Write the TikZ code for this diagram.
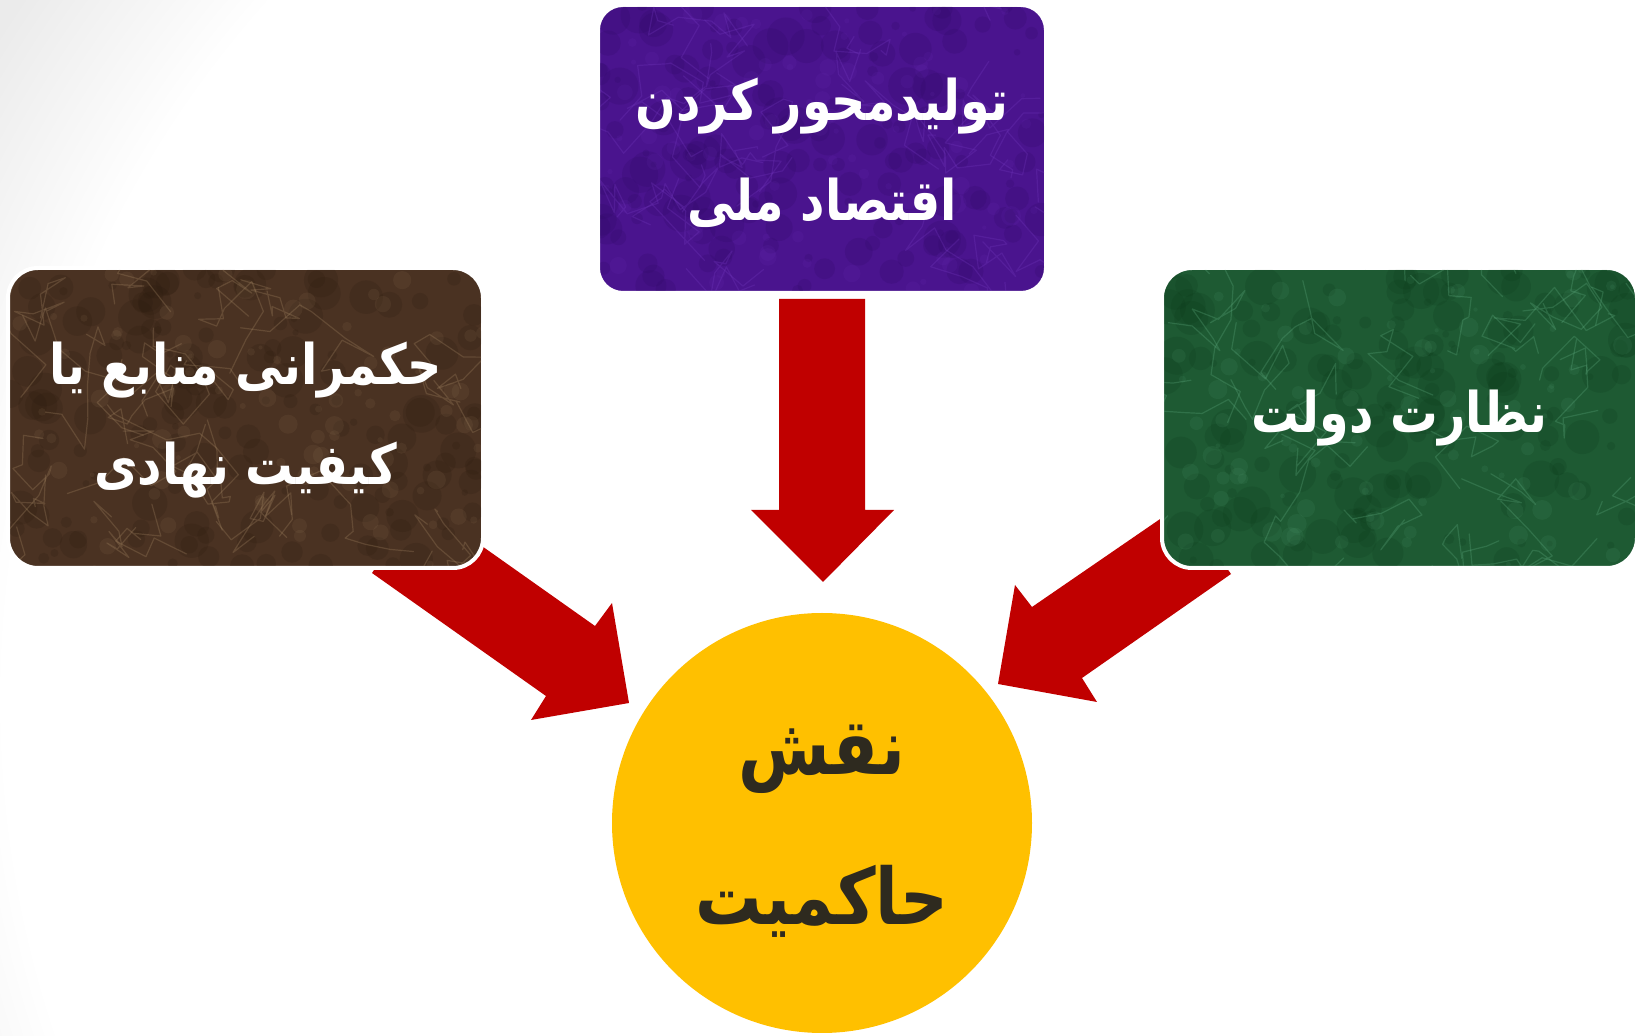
\documentclass[tikz,border=0pt]{standalone}
\usepackage{fontspec}
\newfontfamily\fa[Script=Arabic, FakeStretch=0.85]{DejaVu Sans}
\TeXXeTstate=1
\definecolor{arrowred}{HTML}{C00000}
\definecolor{sungold}{HTML}{FFC000}
\definecolor{darktext}{HTML}{2E2A1F}
\definecolor{purplebase}{HTML}{4A148E}
\definecolor{purpledark}{HTML}{2C0862}
\definecolor{purplelight}{HTML}{7438C0}
\definecolor{brownbase}{HTML}{4A3222}
\definecolor{browndark}{HTML}{2A1A0E}
\definecolor{brownlight}{HTML}{A88A66}
\definecolor{greenbase}{HTML}{1E5A33}
\definecolor{greendark}{HTML}{0C3A1A}
\definecolor{greenlight}{HTML}{62B083}
\tikzset{
  tile/.style={draw=white, line width=2pt, inner sep=0pt, outer sep=0pt},
  boxtext/.style={text=white, align=center, font=\fa\bfseries\fontsize{28}{50}\selectfont},
  circtext/.style={text=darktext, align=center, font=\fa\bfseries\fontsize{39}{75}\selectfont},
  bigarrow/.style={fill=arrowred, draw=none},
}
\newcommand{\marbletexture}[5]{% width, height, dark, light, seed
  \pgfmathsetseed{#5}
  \foreach \k in {1,...,160}{
    \fill[#3, opacity=0.2] ({rnd*#1},{rnd*#2}) circle ({3+rnd*16});
  }
  \foreach \k in {1,...,90}{
    \fill[#4, opacity=0.1] ({rnd*#1},{rnd*#2}) circle ({2+rnd*8});
  }
  \foreach \k in {1,...,30}{
    \draw[#4, opacity=0.28, line width=0.6pt, line join=round, line cap=round]
      ({rnd*#1},{rnd*#2}) \foreach \j in {1,...,8}{ -- ++({rand*35},{rand*35}) };
  }
}
\begin{document}
\begin{tikzpicture}[x=0.5pt,y=-0.5pt]
\useasboundingbox (0,0) rectangle (1635,1036);
% background
\begin{scope}
  \clip (0,0) rectangle (1635,1036);
  \fill[black!8] (0,0) rectangle (1635,1036);
  \foreach \i in {0,...,20}{
    \pgfmathsetmacro\g{8*(1-\i/20)}
    \fill[black!\g] (1050,700) circle ({1250-\i*10});
  }
\end{scope}

% arrows (drawn below the tiles)
\fill[bigarrow] (779,299) -- (865,299) -- (865,510) -- (894,510) -- (823,582) -- (751,510) -- (779,510) -- cycle;
\fill[bigarrow] (372,573) -- (421,503) -- (595,626) -- (612,603) -- (629,703) -- (531,720) -- (546,696) -- cycle;
\fill[bigarrow] (1231,574) -- (1182,504) -- (1032,607) -- (1015,585) -- (998,684) -- (1097,702) -- (1082,678) -- cycle;

% tiles
\node[tile, fill=purplebase, rounded corners=12.5pt, minimum width=224pt, minimum height=144pt] (prod) at (822,149) {};
\node[tile, fill=brownbase, rounded corners=15pt, minimum width=237.5pt, minimum height=150pt] (gov) at (245.5,418) {};
\node[tile, fill=greenbase, rounded corners=15pt, minimum width=237.5pt, minimum height=150pt] (sup) at (1399.5,418) {};

\begin{scope}[shift={(598,5)}]
  \clip[rounded corners=11.5pt] (2,2) rectangle (446,286);
  \marbletexture{448}{288}{purpledark}{purplelight}{11}
\end{scope}
\begin{scope}[shift={(8,268)}]
  \clip[rounded corners=14pt] (2,2) rectangle (473,298);
  \marbletexture{475}{300}{browndark}{brownlight}{23}
\end{scope}
\begin{scope}[shift={(1162,268)}]
  \clip[rounded corners=14pt] (2,2) rectangle (473,298);
  \marbletexture{475}{300}{greendark}{greenlight}{37}
\end{scope}

% centre circle
\node[circle, fill=sungold, minimum size=210pt, inner sep=0pt] (core) at (822,823) {};

% texts
\node[boxtext] (prodtxt) at ([yshift=-2pt]prod.center) {\beginR تولیدمحور کردن\endR\\\beginR اقتصاد ملی\endR};
\node[boxtext] (govtxt) at ([yshift=-1pt]gov.center) {\beginR حکمرانی منابع یا\endR\\\beginR کیفیت نهادی\endR};
\node[boxtext] (suptxt) at (sup.center) {\beginR نظارت دولت\endR};
\node[circtext] (coretxt) at ([yshift=-4pt]core.center) {\beginR نقش\endR\\\beginR حاکمیت\endR};
\end{tikzpicture}
\end{document}
